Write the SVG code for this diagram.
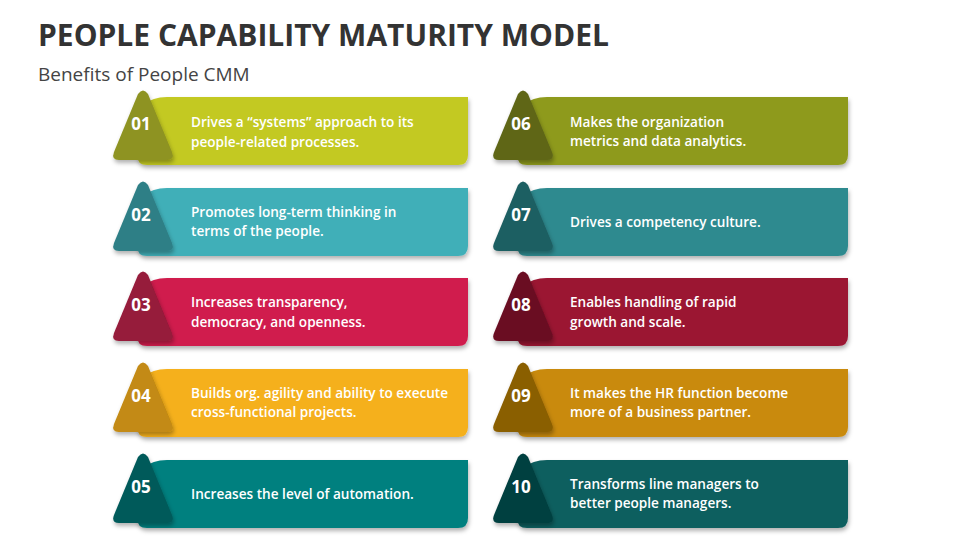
<svg xmlns="http://www.w3.org/2000/svg" width="960" height="540" viewBox="0 0 960 540">
<defs>
<filter id="sh" x="-10%" y="-10%" width="130%" height="140%"><feDropShadow dx="1" dy="3" stdDeviation="2" flood-color="#000" flood-opacity="0.3"/></filter>
<path id="card" d="M0,68 L0,30 Q0,0 30,0 L331,0 L331,58 Q331,68 321,68 L10,68 Q0,68 0,58 Z"/>
<path id="tri" d="M-5,-31 Q0,-38 5,-31 L29,27 Q32,35 24,35 L-24,35 Q-32,35 -29,27 Z"/>
</defs>
<style>
.t{font-family:"Open Sans","Liberation Sans",sans-serif;fill:#fff;font-size:13.6px;font-weight:600}
.n{font-family:"Open Sans","Liberation Sans",sans-serif;fill:#fff;font-size:17px;font-weight:700;text-anchor:middle}
</style>
<rect width="960" height="540" fill="#fff"/>
<text x="38" y="46" font-family="Open Sans,Liberation Sans,sans-serif" font-weight="700" font-size="30" fill="#333">PEOPLE CAPABILITY MATURITY MODEL</text>
<text x="38" y="81" font-family="Open Sans,Liberation Sans,sans-serif" font-size="19" fill="#444">Benefits of People CMM</text>
<g id="n01" transform="translate(137,97)"><use href="#card" fill="#C3C922" filter="url(#sh)"/><use href="#tri" transform="translate(6,28)" fill="#8E9321" filter="url(#sh)"/><text class="n" x="4" y="33">01</text><text class="t" x="54" y="30">Drives a “systems” approach to its</text><text class="t" x="54" y="50">people-related processes.</text></g>
<g id="n02" transform="translate(137,188)"><use href="#card" fill="#3FAFB8" filter="url(#sh)"/><use href="#tri" transform="translate(6,28)" fill="#2E7F86" filter="url(#sh)"/><text class="n" x="4" y="33">02</text><text class="t" x="54" y="29">Promotes long-term thinking in</text><text class="t" x="54" y="48">terms of the people.</text></g>
<g id="n03" transform="translate(137,278)"><use href="#card" fill="#D01C4D" filter="url(#sh)"/><use href="#tri" transform="translate(6,28)" fill="#961A3A" filter="url(#sh)"/><text class="n" x="4" y="33">03</text><text class="t" x="54" y="29">Increases transparency,</text><text class="t" x="54" y="49">democracy, and openness.</text></g>
<g id="n04" transform="translate(137,369)"><use href="#card" fill="#F5B01A" filter="url(#sh)"/><use href="#tri" transform="translate(6,28)" fill="#C38A12" filter="url(#sh)"/><text class="n" x="4" y="33">04</text><text class="t" x="54" y="29">Builds org. agility and ability to execute</text><text class="t" x="54" y="48">cross-functional projects.</text></g>
<g id="n05" transform="translate(137,460)"><use href="#card" fill="#00807F" filter="url(#sh)"/><use href="#tri" transform="translate(6,28)" fill="#005A5A" filter="url(#sh)"/><text class="n" x="4" y="33">05</text><text class="t" x="54" y="39">Increases the level of automation.</text></g>
<g id="n06" transform="translate(517,97)"><use href="#card" fill="#8E9A1C" filter="url(#sh)"/><use href="#tri" transform="translate(6,28)" fill="#5E6619" filter="url(#sh)"/><text class="n" x="4" y="33">06</text><text class="t" x="53" y="30">Makes the organization</text><text class="t" x="53" y="49">metrics and data analytics.</text></g>
<g id="n07" transform="translate(517,188)"><use href="#card" fill="#2F8A8F" filter="url(#sh)"/><use href="#tri" transform="translate(6,28)" fill="#1F5E62" filter="url(#sh)"/><text class="n" x="4" y="33">07</text><text class="t" x="53" y="39">Drives a competency culture.</text></g>
<g id="n08" transform="translate(517,278)"><use href="#card" fill="#9B1433" filter="url(#sh)"/><use href="#tri" transform="translate(6,28)" fill="#6A0D23" filter="url(#sh)"/><text class="n" x="4" y="33">08</text><text class="t" x="53" y="29">Enables handling of rapid</text><text class="t" x="53" y="49">growth and scale.</text></g>
<g id="n09" transform="translate(517,369)"><use href="#card" fill="#C98A08" filter="url(#sh)"/><use href="#tri" transform="translate(6,28)" fill="#8A5E06" filter="url(#sh)"/><text class="n" x="4" y="33">09</text><text class="t" x="53" y="29">It makes the HR function become</text><text class="t" x="53" y="48">more of a business partner.</text></g>
<g id="n10" transform="translate(517,460)"><use href="#card" fill="#0B5E5E" filter="url(#sh)"/><use href="#tri" transform="translate(6,28)" fill="#063F3F" filter="url(#sh)"/><text class="n" x="4" y="33">10</text><text class="t" x="53" y="29">Transforms line managers to</text><text class="t" x="53" y="48">better people managers.</text></g>
<g id="connectors"/>
</svg>
